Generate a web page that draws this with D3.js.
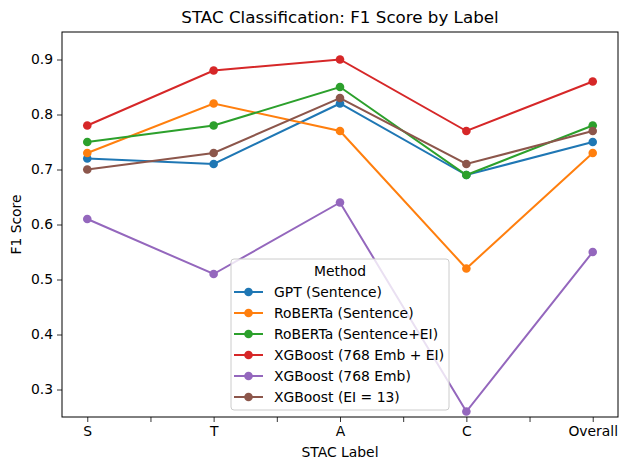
<!DOCTYPE html>
<html>
<head>
<meta charset="utf-8">
<script src="https://cdn.jsdelivr.net/npm/d3@7"></script>
<style>
  body { margin: 0; background: #fff; }
  text { font-family: "DejaVu Sans", sans-serif; fill: #000; }
</style>
</head>
<body>
<svg id="chart" width="627" height="470"></svg>
<script>
// data
var labels = ["S", "T", "A", "C", "Overall"];
var methods = ["GPT (Sentence)", "RoBERTa (Sentence)", "RoBERTa (Sentence+EI)",
               "XGBoost (768 Emb + EI)", "XGBoost (768 Emb)", "XGBoost (EI = 13)"];
var gptSentence     = [0.72, 0.71, 0.82, 0.69, 0.75];
var robertaSentence = [0.73, 0.82, 0.77, 0.52, 0.73];
var robertaSentEI   = [0.75, 0.78, 0.85, 0.69, 0.78];
var xgbEmbEI        = [0.78, 0.88, 0.90, 0.77, 0.86];
var xgbEmb          = [0.61, 0.51, 0.64, 0.26, 0.55];
var xgbEI13         = [0.70, 0.73, 0.83, 0.71, 0.77];
var yTicks = [0.3, 0.4, 0.5, 0.6, 0.7, 0.8, 0.9];

var seriesValues = [gptSentence, robertaSentence, robertaSentEI, xgbEmbEI, xgbEmb, xgbEI13];
var colors = ["#1f77b4", "#ff7f0e", "#2ca02c", "#d62728", "#9467bd", "#8c564b"];

var svg = d3.select("#chart");
var plotL = 62, plotR = 618, plotT = 32, plotB = 417;

var x = d3.scaleLinear().domain([-0.2, 4.2]).range([plotL, plotR]);
var y = d3.scaleLinear().domain([0.25, 0.95]).range([plotB, plotT]);

// axes
var xTickVals = d3.range(0, 4.01, 0.5);
var xAxis = d3.axisBottom(x)
    .tickValues(xTickVals)
    .tickSize(5)
    .tickPadding(4)
    .tickFormat(function (d) { return Number.isInteger(d) ? labels[d] : ""; });
var yAxis = d3.axisLeft(y)
    .tickValues(yTicks)
    .tickSize(5)
    .tickPadding(4)
    .tickFormat(d3.format(".1f"));

var gx = svg.append("g").attr("transform", "translate(0," + plotB + ")").call(xAxis);
var gy = svg.append("g").attr("transform", "translate(" + plotL + ",0)").call(yAxis);
[gx, gy].forEach(function (g) {
  g.select(".domain").remove();
  g.selectAll(".tick line").attr("stroke", "#000").attr("stroke-width", 0.8);
  g.selectAll(".tick text").style("font-size", "13.9px");
});

// lines and markers
var line = d3.line()
    .x(function (d, i) { return x(i); })
    .y(function (d) { return y(d); });

seriesValues.forEach(function (vals, k) {
  var g = svg.append("g");
  g.append("path")
    .datum(vals)
    .attr("d", line)
    .attr("fill", "none")
    .attr("stroke", colors[k])
    .attr("stroke-width", 2);
  g.selectAll("circle")
    .data(vals)
    .enter()
    .append("circle")
    .attr("cx", function (d, i) { return x(i); })
    .attr("cy", function (d) { return y(d); })
    .attr("r", 4.3)
    .attr("fill", colors[k]);
});

// frame
svg.append("rect")
  .attr("x", plotL).attr("y", plotT)
  .attr("width", plotR - plotL).attr("height", plotB - plotT)
  .attr("fill", "none").attr("stroke", "#000").attr("stroke-width", 1);

// titles
svg.append("text")
  .attr("x", (plotL + plotR) / 2).attr("y", 23)
  .attr("text-anchor", "middle")
  .style("font-size", "16.7px")
  .text("STAC Classification: F1 Score by Label");
svg.append("text")
  .attr("x", (plotL + plotR) / 2).attr("y", 457)
  .attr("text-anchor", "middle")
  .style("font-size", "13.9px")
  .text("STAC Label");
svg.append("text")
  .attr("transform", "translate(21," + ((plotT + plotB) / 2) + ") rotate(-90)")
  .attr("text-anchor", "middle")
  .style("font-size", "13.9px")
  .text("F1 Score");

// legend
var lg = svg.append("g").attr("transform", "translate(231,259)");
lg.append("rect")
  .attr("width", 218).attr("height", 151).attr("rx", 3)
  .attr("fill", "#fff").attr("fill-opacity", 0.8)
  .attr("stroke", "#ccc").attr("stroke-width", 1);
lg.append("text")
  .attr("x", 109).attr("y", 17)
  .attr("text-anchor", "middle")
  .style("font-size", "13.9px")
  .text("Method");
methods.forEach(function (m, k) {
  var yy = 33 + k * 21;
  lg.append("line")
    .attr("x1", 3).attr("x2", 32).attr("y1", yy).attr("y2", yy)
    .attr("stroke", colors[k]).attr("stroke-width", 2);
  lg.append("circle").attr("cx", 17.5).attr("cy", yy).attr("r", 4.3).attr("fill", colors[k]);
  lg.append("text")
    .attr("x", 43).attr("y", yy + 5)
    .style("font-size", "13.9px")
    .text(m);
});
</script>
</body>
</html>
